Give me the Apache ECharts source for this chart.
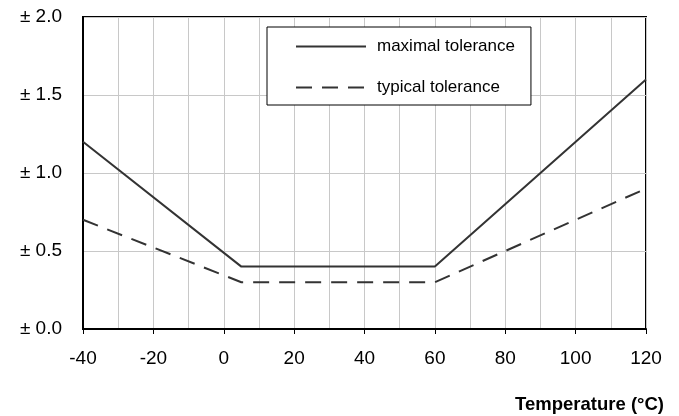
<!DOCTYPE html>
<html><head><meta charset="utf-8">
<script src="https://cdn.jsdelivr.net/npm/echarts@6/dist/echarts.min.js"></script>
<style>html,body{margin:0;padding:0;background:#fff}#c{width:679px;height:416px}</style>
</head><body><div id="c"></div>
<script>
var temperature = [-40, 5, 60, 120];
var maximalTolerance = [1.2, 0.4, 0.4, 1.6];
var typicalTolerance = [0.7, 0.3, 0.3, 0.9];
var seriesNames = ['maximal tolerance', 'typical tolerance'];
var xTitle = 'Temperature (°C)';

var FONT = '"Liberation Sans", Arial, sans-serif';
function pairs(xs, ys){ return xs.map(function(x,i){ return [x, ys[i]]; }); }

var chart = echarts.init(document.getElementById('c'));
chart.setOption({
  animation: false,
  backgroundColor: '#fff',
  grid: { left: 83, right: 33, top: 17, bottom: 87, show: true, borderColor: '#000', borderWidth: 2, backgroundColor: 'transparent' },
  title: { text: xTitle, right: 15, bottom: 2, padding: 0, textStyle: { fontFamily: FONT, fontSize: 18.5, fontWeight: 'bold', color: '#000' } },
  legend: {
    orient: 'vertical', left: 267, top: 27,
    padding: [11, 16, 9, 28], itemGap: 24,
    backgroundColor: '#fff', borderColor: '#000', borderWidth: 1,
    itemWidth: 70, itemHeight: 20,
    itemStyle: { opacity: 0 },
    textStyle: { fontFamily: FONT, fontSize: 17, color: '#000', padding: [0,0,0,6] },
    data: seriesNames
  },
  xAxis: {
    type: 'value', min: -40, max: 120, interval: 20,
    axisLine: { show: true, onZero: false, lineStyle: { color: '#000', width: 2 } },
    axisTick: { show: true, length: 5, lineStyle: { color: '#000', width: 1 } },
    axisLabel: { fontFamily: FONT, fontSize: 19, color: '#000', margin: 20 },
    splitLine: { show: true, lineStyle: { color: '#c8c8c8', width: 1 } },
    minorTick: { show: false, splitNumber: 2 },
    minorSplitLine: { show: true, lineStyle: { color: '#c8c8c8', width: 1 } }
  },
  yAxis: {
    type: 'value', min: 0, max: 2, interval: 0.5,
    axisLine: { show: true, onZero: false, lineStyle: { color: '#000', width: 2 } },
    axisTick: { show: false },
    axisLabel: { fontFamily: FONT, fontSize: 19, color: '#000', margin: 21,
      formatter: function(v){ return '± ' + v.toFixed(1); } },
    splitLine: { show: true, lineStyle: { color: '#c8c8c8', width: 1 } }
  },
  series: [
    { name: seriesNames[0], type: 'line', data: pairs(temperature, maximalTolerance), symbol: 'none',
      lineStyle: { color: '#333', width: 2 }, itemStyle: { color: '#333' }, z: 5 },
    { name: seriesNames[1], type: 'line', data: pairs(temperature, typicalTolerance), symbol: 'none',
      lineStyle: { color: '#333', width: 2, type: [16, 10] }, itemStyle: { color: '#333' }, z: 5 }
  ]
});
</script></body></html>
